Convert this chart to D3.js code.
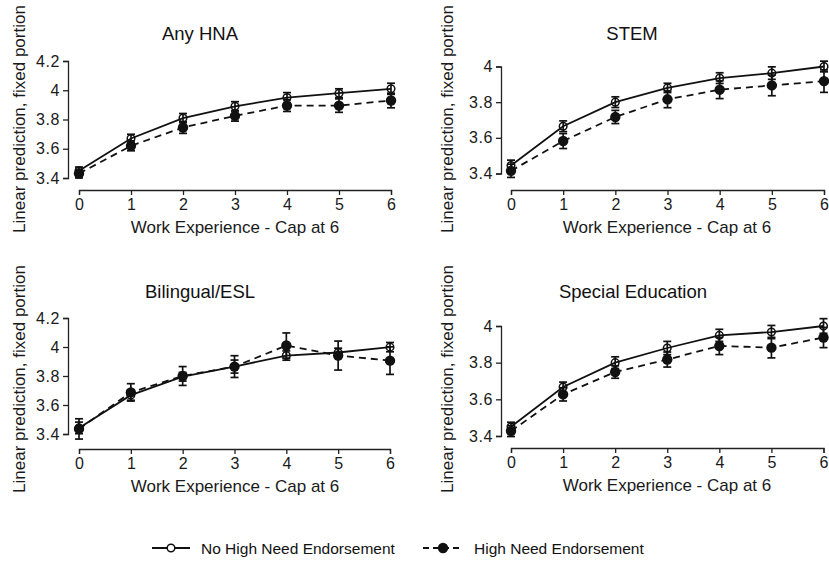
<!DOCTYPE html>
<html>
<head>
<meta charset="utf-8">
<script src="https://cdn.jsdelivr.net/npm/d3@7"></script>
<style>
  body { margin: 0; background: #fff; }
  svg { display: block; font-family: "Liberation Sans", Arial, sans-serif; }
  .axis path, .axis line { stroke: #222; stroke-width: 1.3; }
  .axis text { fill: #1a1a1a; font-size: 16px; }
</style>
</head>
<body>
<div id="chart"></div>
<script>
// Werte (Mittelwert und halbe KI-Breite)
const years = [0, 1, 2, 3, 4, 5, 6];
const panelTitles = ["Any HNA", "STEM", "Bilingual/ESL", "Special Education"];
const seriesNames = ["No High Need Endorsement", "High Need Endorsement"];

const anyNo = [3.45, 3.67, 3.81, 3.89, 3.95, 3.98, 4.01];
const anyNoErr = [0.025, 0.029, 0.031, 0.032, 0.034, 0.03, 0.038];
const anyHigh = [3.43, 3.62, 3.745, 3.825, 3.895, 3.895, 3.93];
const anyHighErr = [0.03, 0.034, 0.04, 0.036, 0.04, 0.046, 0.05];

const stemNo = [3.445, 3.665, 3.8, 3.88, 3.935, 3.963, 4.0];
const stemNoErr = [0.03, 0.03, 0.03, 0.026, 0.03, 0.035, 0.03];
const stemHigh = [3.415, 3.582, 3.717, 3.816, 3.87, 3.894, 3.918];
const stemHighErr = [0.037, 0.042, 0.037, 0.047, 0.05, 0.058, 0.063];

const eslNo = [3.442, 3.668, 3.795, 3.865, 3.941, 3.962, 3.999];
const eslNoErr = [0.04, 0.035, 0.03, 0.045, 0.032, 0.03, 0.032];
const eslHigh = [3.435, 3.687, 3.8, 3.865, 4.01, 3.941, 3.906];
const eslHighErr = [0.07, 0.06, 0.065, 0.075, 0.087, 0.1, 0.095];

const speNo = [3.45, 3.667, 3.8, 3.88, 3.949, 3.967, 4.0];
const speNoErr = [0.025, 0.027, 0.032, 0.036, 0.033, 0.036, 0.04];
const speHigh = [3.427, 3.627, 3.749, 3.817, 3.891, 3.882, 3.937];
const speHighErr = [0.03, 0.036, 0.034, 0.041, 0.047, 0.056, 0.055];

const yTicksWide = [3.4, 3.6, 3.8, 4, 4.2];
const yTicksNarrow = [3.4, 3.6, 3.8, 4];

const W = 829, H = 561;
const svg = d3.select("#chart").append("svg")
    .attr("width", W)
    .attr("height", H);

// Layout je Panel
const panels = [
    { title: panelTitles[0], no: anyNo, noErr: anyNoErr, hi: anyHigh, hiErr: anyHighErr,
      yTicks: yTicksWide, x0: 79, x1: 391, yAxisX: 68, yTop: 61, yBot: 178, xAxisY: 190,
      titleX: 200, titleY: 40, yTitleX: 19, yTitleY: 119, xTitleX: 235, xTitleY: 233 },
    { title: panelTitles[1], no: stemNo, noErr: stemNoErr, hi: stemHigh, hiErr: stemHighErr,
      yTicks: yTicksNarrow, x0: 511, x1: 824, yAxisX: 501, yTop: 66.5, yBot: 173.5, xAxisY: 190,
      titleX: 632, titleY: 40, yTitleX: 447, yTitleY: 119, xTitleX: 667, xTitleY: 233 },
    { title: panelTitles[2], no: eslNo, noErr: eslNoErr, hi: eslHigh, hiErr: eslHighErr,
      yTicks: yTicksWide, x0: 79, x1: 390, yAxisX: 68, yTop: 318, yBot: 434, xAxisY: 449,
      titleX: 200, titleY: 298, yTitleX: 19, yTitleY: 379, xTitleX: 235, xTitleY: 492 },
    { title: panelTitles[3], no: speNo, noErr: speNoErr, hi: speHigh, hiErr: speHighErr,
      yTicks: yTicksNarrow, x0: 511, x1: 823.5, yAxisX: 501, yTop: 326, yBot: 436, xAxisY: 448,
      titleX: 633, titleY: 298, yTitleX: 447, yTitleY: 379, xTitleX: 667, xTitleY: 491 }
];

panels.forEach(p => {
    const x = d3.scaleLinear().domain([0, 6]).range([p.x0, p.x1]);
    const y = d3.scaleLinear().domain(d3.extent(p.yTicks)).range([p.yBot, p.yTop]);
    const g = svg.append("g");

    // Achsen
    g.append("g")
        .attr("class", "axis")
        .attr("transform", `translate(${p.yAxisX},0)`)
        .call(d3.axisLeft(y).tickValues(p.yTicks).tickFormat(d3.format("~g"))
            .tickSizeOuter(0).tickSize(5).tickPadding(3))
        .selectAll("text").attr("letter-spacing", 0.6);

    g.append("g")
        .attr("class", "axis")
        .attr("transform", `translate(0,${p.xAxisY})`)
        .call(d3.axisBottom(x).tickValues(years).tickFormat(d3.format("d"))
            .tickSizeOuter(0).tickSize(5).tickPadding(4));

    g.selectAll(".axis .domain").attr("fill", "none");

    // Titel
    g.append("text")
        .attr("x", p.titleX).attr("y", p.titleY)
        .attr("text-anchor", "middle")
        .attr("font-size", 18.5).attr("fill", "#111")
        .text(p.title);

    g.append("text")
        .attr("x", p.xTitleX).attr("y", p.xTitleY)
        .attr("text-anchor", "middle")
        .attr("font-size", 17).attr("fill", "#1a1a1a")
        .text("Work Experience - Cap at 6");

    g.append("text")
        .attr("transform", `translate(${p.yTitleX},${p.yTitleY}) rotate(-90)`)
        .attr("text-anchor", "middle")
        .attr("dominant-baseline", "central")
        .attr("font-size", 17).attr("fill", "#1a1a1a")
        .text("Linear prediction, fixed portion");

    const series = [
        { vals: p.hi, err: p.hiErr, dash: "7,5", filled: true },
        { vals: p.no, err: p.noErr, dash: null, filled: false }
    ];

    series.forEach(s => {
        const pts = years.map((yr, i) => ({ yr, v: s.vals[i], e: s.err[i] }));

        const line = d3.line().x(d => x(d.yr)).y(d => y(d.v));
        g.append("path")
            .datum(pts)
            .attr("fill", "none")
            .attr("stroke", "#111")
            .attr("stroke-width", 1.8)
            .attr("stroke-dasharray", s.dash)
            .attr("d", line);

        // Fehlerbalken
        const eb = g.append("g").attr("stroke", "#111").attr("stroke-width", 1.7);
        eb.selectAll("line.v").data(pts).join("line")
            .attr("x1", d => x(d.yr)).attr("x2", d => x(d.yr))
            .attr("y1", d => y(d.v - d.e)).attr("y2", d => y(d.v + d.e));
        eb.selectAll("line.top").data(pts).join("line")
            .attr("x1", d => x(d.yr) - 4).attr("x2", d => x(d.yr) + 4)
            .attr("y1", d => y(d.v + d.e)).attr("y2", d => y(d.v + d.e));
        eb.selectAll("line.bot").data(pts).join("line")
            .attr("x1", d => x(d.yr) - 4).attr("x2", d => x(d.yr) + 4)
            .attr("y1", d => y(d.v - d.e)).attr("y2", d => y(d.v - d.e));

        g.selectAll(null).data(pts).join("circle")
            .attr("cx", d => x(d.yr)).attr("cy", d => y(d.v))
            .attr("r", s.filled ? 5.2 : 3.8)
            .attr("fill", s.filled ? "#111" : "none")
            .attr("stroke", "#111")
            .attr("stroke-width", s.filled ? 0 : 1.5);
    });
});

// Legende
const legend = svg.append("g").attr("font-size", 15.5).attr("fill", "#111");
const legendItems = [
    { name: seriesNames[0], x0: 152, x1: 190, dash: null, filled: false, tx: 201 },
    { name: seriesNames[1], x0: 423, x1: 463, dash: "6,4", filled: true, tx: 474 }
];
legendItems.forEach(it => {
    const ly = 548;
    legend.append("line")
        .attr("x1", it.x0).attr("x2", it.x1).attr("y1", ly).attr("y2", ly)
        .attr("stroke", "#111").attr("stroke-width", 1.8)
        .attr("stroke-dasharray", it.dash);
    legend.append("circle")
        .attr("cx", (it.x0 + it.x1) / 2).attr("cy", ly)
        .attr("r", it.filled ? 5.2 : 3.8)
        .attr("fill", it.filled ? "#111" : "#fff")
        .attr("stroke", "#111").attr("stroke-width", it.filled ? 0 : 1.5);
    legend.append("text")
        .attr("x", it.tx).attr("y", ly)
        .attr("dominant-baseline", "central")
        .text(it.name);
});
</script>
</body>
</html>
